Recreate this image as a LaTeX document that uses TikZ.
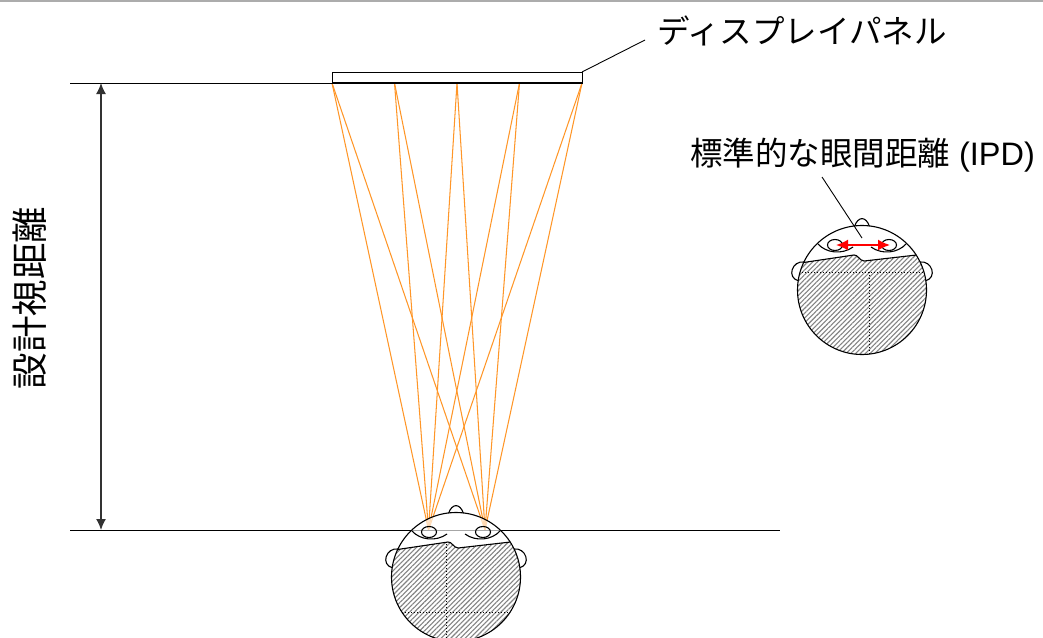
\documentclass[tikz,border=0pt]{standalone}
\usepackage{fontspec}
\setmainfont{Noto Sans CJK JP}
\newfontfamily\latinfont{Liberation Sans}
\usetikzlibrary{arrows.meta,patterns.meta}

\definecolor{rayorange}{RGB}{255,150,40}
\definecolor{hatchgray}{RGB}{130,130,130}
\definecolor{dimgray}{RGB}{50,50,50}

\tikzset{
  ray/.style={draw=rayorange, line width=1.05pt},
  outline/.style={draw=black, line width=1.1pt},
  guide/.style={draw=black, line width=1pt},
  dotline/.style={draw=black, line width=0.6pt, dash pattern=on 0.8pt off 2.2pt},
  leader/.style={draw=black, line width=0.9pt},
  bigtext/.style={inner sep=0pt, font=\fontsize{32.5}{38}\selectfont},
  % top view of a head: ears, nose, eyes and the shaded back of the head
  pics/head/.style={code={
    \draw[outline] (-57.5,-28) .. controls (-70,-30) and (-76,-12) .. (-63,-9);
    \draw[outline] (57.5,-28) .. controls (70,-30) and (76,-12) .. (63,-9);
    \draw[outline] (-7.5,-63.5) .. controls (-4,-74) and (4,-74) .. (7.5,-63.5);
    \fill[white, opacity=0.65] (0,0) circle (64.5);
    \begin{scope}
      \clip (0,0) circle (64.5);
      \fill[pattern={Lines[angle=45, distance=3.4pt, line width=1.1pt]}, pattern color=hatchgray]
        (-72,-25.5) -- (-8,-35) .. controls (-4,-35.5) and (-3,-29.5) .. (2,-29)
        -- (72,-37) -- (72,72) -- (-72,72) -- cycle;
      \draw[outline]
        (-72,-25.5) -- (-8,-35) .. controls (-4,-35.5) and (-3,-29.5) .. (2,-29)
        -- (72,-37);
    \end{scope}
    \draw[outline] (0,0) circle (64.5);
    \draw[outline] (-27,-45) ellipse [x radius=7.5, y radius=5.5];
    \draw[outline] (27,-45) ellipse [x radius=7.5, y radius=5.5];
    \draw[outline] (-44,-46) .. controls (-36,-37) and (-20,-35) .. (-9,-43);
    \draw[outline] (9,-43) .. controls (20,-35) and (36,-37) .. (44,-46);
  }}
}

\begin{document}
\begin{tikzpicture}[x=1pt, y=-1pt]
\useasboundingbox (0,0) rectangle (1043,637);

% frame line along the top edge
\draw[gray!65, line width=2pt] (0,1) -- (1043,1);

% points on the display panel
\coordinate (p1) at (332,83);
\coordinate (p2) at (394.5,83);
\coordinate (p3) at (457,83);
\coordinate (p4) at (519.5,83);
\coordinate (p5) at (582,83);
% the two eyes of the viewer
\coordinate (eyeL) at (428.5,530);
\coordinate (eyeR) at (485,530);

% rays from the panel to each eye
\foreach \p in {p1,p2,p3,p4,p5}{
  \draw[ray] (\p) -- (eyeL);
  \draw[ray] (\p) -- (eyeR);
}

% reference lines of the panel plane and the eye plane
\coordinate (topL) at (70,83);
\coordinate (botL) at (70,530);
\coordinate (botR) at (780,530);
\draw[guide] (topL) -- (p1);
\draw[guide] (botL) -- (botR);

% display panel
\draw[line width=1pt] (332,72) rectangle (582,83);
\draw[line width=2pt] (332,82.5) -- (582,82.5);
\coordinate (panelTR) at (582,72);

% design viewing distance
\coordinate (dimTop) at (101,83);
\coordinate (dimBot) at (101,530);
\draw[draw=dimgray, line width=1.4pt,
      {Latex[length=11pt,width=10pt]}-{Latex[length=11pt,width=10pt]}]
  (dimTop) -- (dimBot);
\node[bigtext, font=\fontsize{36.5}{42}\selectfont, rotate=90] (distlabel) at (30,298) {設計視距離};

% viewer
\pic at (456,577) {head};
\begin{scope}[shift={(456,577)}]
  \clip (0,0) circle (64.5);
  \draw[dotline] (-10,-33) -- (-10,72);
  \draw[dotline] (-72,35) -- (72,35);
\end{scope}

% panel label
\node[bigtext, anchor=west] (panellabel) at (657,31) {ディスプレイパネル};
\coordinate (panelcallout) at (645,40);
\draw[leader] (panelTR) -- (panelcallout);

% head with interpupillary distance
\pic at (862,290) {head};
\begin{scope}[shift={(862,290)}]
  \clip (0,0) circle (64.5);
  \draw[dotline] (-72,-18) -- (72,-18);
  \draw[dotline] (7,-18) -- (7,72);
\end{scope}
\coordinate (ipdL) at (836,245);
\coordinate (ipdR) at (890,245);
\draw[red, line width=1.8pt,
      {Latex[length=12pt,width=11pt]}-{Latex[length=12pt,width=11pt]}]
  (ipdL) -- (ipdR);

\node[bigtext] (ipdlabel) at (862.5,155) {標準的な眼間距離{\latinfont\ (IPD)}};
\coordinate (ipdcallout) at (822,177);
\coordinate (ipdpoint) at (862,238);
\draw[leader] (ipdcallout) -- (ipdpoint);
\end{tikzpicture}
\end{document}
